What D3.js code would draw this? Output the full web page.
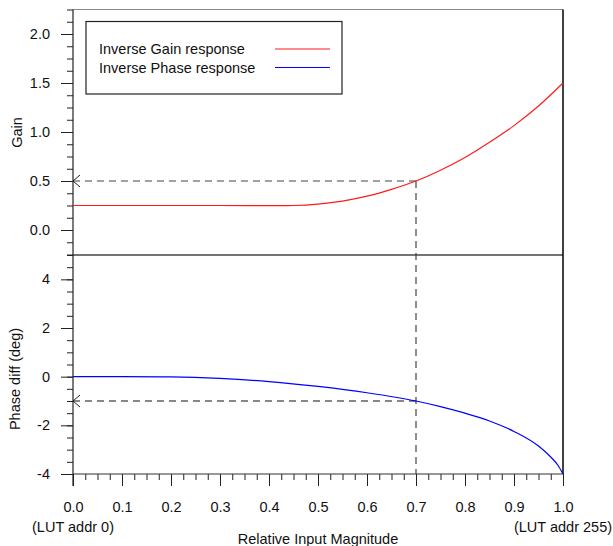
<!DOCTYPE html>
<html><head><meta charset="utf-8">
<script src="https://cdn.jsdelivr.net/npm/d3@7"></script>
<style>
body{margin:0;background:#fff;}
text{font-family:"Liberation Sans",Arial,sans-serif;font-size:14.5px;fill:#111;}
</style></head>
<body><svg id="c" width="613" height="546"></svg>
<script>
// Data
const magnitude = [0,0.1,0.2,0.3,0.4,0.43,0.45,0.5,0.55,0.6,0.65,0.7,0.75,0.8,0.85,0.9,0.95,1.0];
const gainValues = [0.25,0.25,0.25,0.25,0.249,0.248,0.25,0.265,0.295,0.345,0.415,0.5,0.61,0.74,0.895,1.065,1.265,1.5];
const phaseMag = [0,0.1,0.2,0.3,0.4,0.5,0.6,0.7,0.75,0.8,0.85,0.9,0.95,0.975,0.99,1.0];
const phaseValues = [0,0,-0.01,-0.07,-0.2,-0.4,-0.66,-1.0,-1.23,-1.5,-1.82,-2.25,-2.85,-3.3,-3.65,-4.0];
const xTicks = [0,0.1,0.2,0.3,0.4,0.5,0.6,0.7,0.8,0.9,1.0];
const gainTicks = [0,0.5,1.0,1.5,2.0];
const phaseTicks = [-4,-2,0,2,4];
const marker = {x:0.7, gain:0.5, phase:-1};
const legendLabels = ["Inverse Gain response","Inverse Phase response"];
const colors = ["#ff1a1a","#0000ff"];

const svg = d3.select("#c");
const x = d3.scaleLinear([0,1],[73,563]);
const yG = d3.scaleLinear([-0.25,2.25],[254.5,9.5]);
const yP = d3.scaleLinear([-4,5],[474,255]);

// minor ticks
const gMinor = d3.range(-0.25,2.2501,0.125);
const pMinor = d3.range(-4,5.001,0.5);
const xMinor = d3.range(0,1.0001,0.025);

function styleAxis(g){
  g.select(".domain").remove();
  g.selectAll(".tick line").attr("stroke","#222").attr("stroke-width",1);
  g.selectAll(".tick text").attr("font-size",null).attr("font-family",null).attr("fill","#111");
}
const f1 = d => d.toFixed(1);
const f0 = d => String(d);

svg.append("g").attr("transform","translate(73,0)")
  .call(d3.axisLeft(yG).tickValues(gMinor).tickSize(6).tickFormat(""))
  .call(styleAxis);
svg.append("g").attr("transform","translate(73,0)")
  .call(d3.axisLeft(yG).tickValues(gainTicks).tickSize(12).tickPadding(11).tickFormat(f1))
  .call(styleAxis);
svg.append("g").attr("transform","translate(73,0)")
  .call(d3.axisLeft(yP).tickValues(pMinor).tickSize(6).tickFormat(""))
  .call(styleAxis);
svg.append("g").attr("transform","translate(73,0)")
  .call(d3.axisLeft(yP).tickValues(phaseTicks).tickSize(12).tickPadding(11).tickFormat(f0))
  .call(styleAxis);
svg.append("g").attr("transform","translate(0,474)")
  .call(d3.axisBottom(x).tickValues(xMinor).tickSize(6).tickFormat(""))
  .call(styleAxis);
svg.append("g").attr("transform","translate(0,474)")
  .call(d3.axisBottom(x).tickValues(xTicks).tickSize(12).tickPadding(16).tickFormat(f1))
  .call(styleAxis);

// frame
svg.append("line").attr("x1",x(0)).attr("x2",x(1)).attr("y1",yG(2.25)).attr("y2",yG(2.25)).attr("stroke","#888").attr("stroke-width",1);
svg.append("line").attr("x1",x(0)).attr("x2",x(1)).attr("y1",yP(5)).attr("y2",yP(5)).attr("stroke","#444").attr("stroke-width",1.5);
svg.append("line").attr("x1",x(0)).attr("x2",x(1)).attr("y1",yP(-4)).attr("y2",yP(-4)).attr("stroke","#333").attr("stroke-width",1.2);
svg.append("line").attr("x1",x(0)).attr("x2",x(0)).attr("y1",yG(2.25)).attr("y2",yP(-4)+12).attr("stroke","#222").attr("stroke-width",1.2);
svg.append("line").attr("x1",x(1)).attr("x2",x(1)).attr("y1",yG(2.25)).attr("y2",yP(-4)).attr("stroke","#000").attr("stroke-width",1.5);

// dashed markers
const dash = "7,5";
svg.append("line").attr("x1",x(0)).attr("x2",x(marker.x)).attr("y1",yG(marker.gain)).attr("y2",yG(marker.gain))
  .attr("stroke","#444").attr("stroke-width",1.2).attr("stroke-dasharray",dash);
svg.append("line").attr("x1",x(0)).attr("x2",x(marker.x)).attr("y1",yP(marker.phase)).attr("y2",yP(marker.phase))
  .attr("stroke","#111").attr("stroke-width",1.2).attr("stroke-dasharray",dash);
svg.append("line").attr("x1",x(marker.x)).attr("x2",x(marker.x)).attr("y1",yG(marker.gain)).attr("y2",yP(-4))
  .attr("stroke","#444").attr("stroke-width",1.2).attr("stroke-dasharray",dash);
// arrow heads
[yG(marker.gain), yP(marker.phase)].forEach(yy=>{
  svg.append("path").attr("d",`M${x(0)+7},${yy-6}L${x(0)},${yy}L${x(0)+7},${yy+6}`)
    .attr("fill","none").attr("stroke","#222").attr("stroke-width",1);
});

// curves
const gainLine = d3.line().x((d,i)=>x(magnitude[i])).y(d=>yG(d)).curve(d3.curveMonotoneX);
svg.append("path").attr("d",gainLine(gainValues)).attr("fill","none").attr("stroke",colors[0]).attr("stroke-width",1.2);
const phaseLine = d3.line().x((d,i)=>x(phaseMag[i])).y(d=>yP(d)).curve(d3.curveMonotoneX);
svg.append("path").attr("d",phaseLine(phaseValues)).attr("fill","none").attr("stroke",colors[1]).attr("stroke-width",1.2);

// legend
svg.append("rect").attr("x",86).attr("y",21.5).attr("width",256).attr("height",72.5)
  .attr("fill","#fff").attr("stroke","#222").attr("stroke-width",1.2);
legendLabels.forEach((t,i)=>{
  const yy = 49 + i*18.5;
  svg.append("text").attr("x",99).attr("y",yy+5).text(t);
  svg.append("line").attr("x1",275).attr("x2",330).attr("y1",yy).attr("y2",yy).attr("stroke",colors[i]).attr("stroke-width",1.2);
});

// axis titles
svg.append("text").attr("transform","translate(21.5,132.5) rotate(-90)").attr("text-anchor","middle").text("Gain");
svg.append("text").attr("transform","translate(20,379) rotate(-90)").attr("text-anchor","middle").text("Phase diff (deg)");
svg.append("text").attr("x",x(0)).attr("y",531.5).attr("text-anchor","middle").text("(LUT addr 0)");
svg.append("text").attr("x",x(1)).attr("y",531.5).attr("text-anchor","middle").text("(LUT addr 255)");
svg.append("text").attr("x",(x(0)+x(1))/2).attr("y",543.5).attr("text-anchor","middle").text("Relative Input Magnitude");
</script></body></html>
